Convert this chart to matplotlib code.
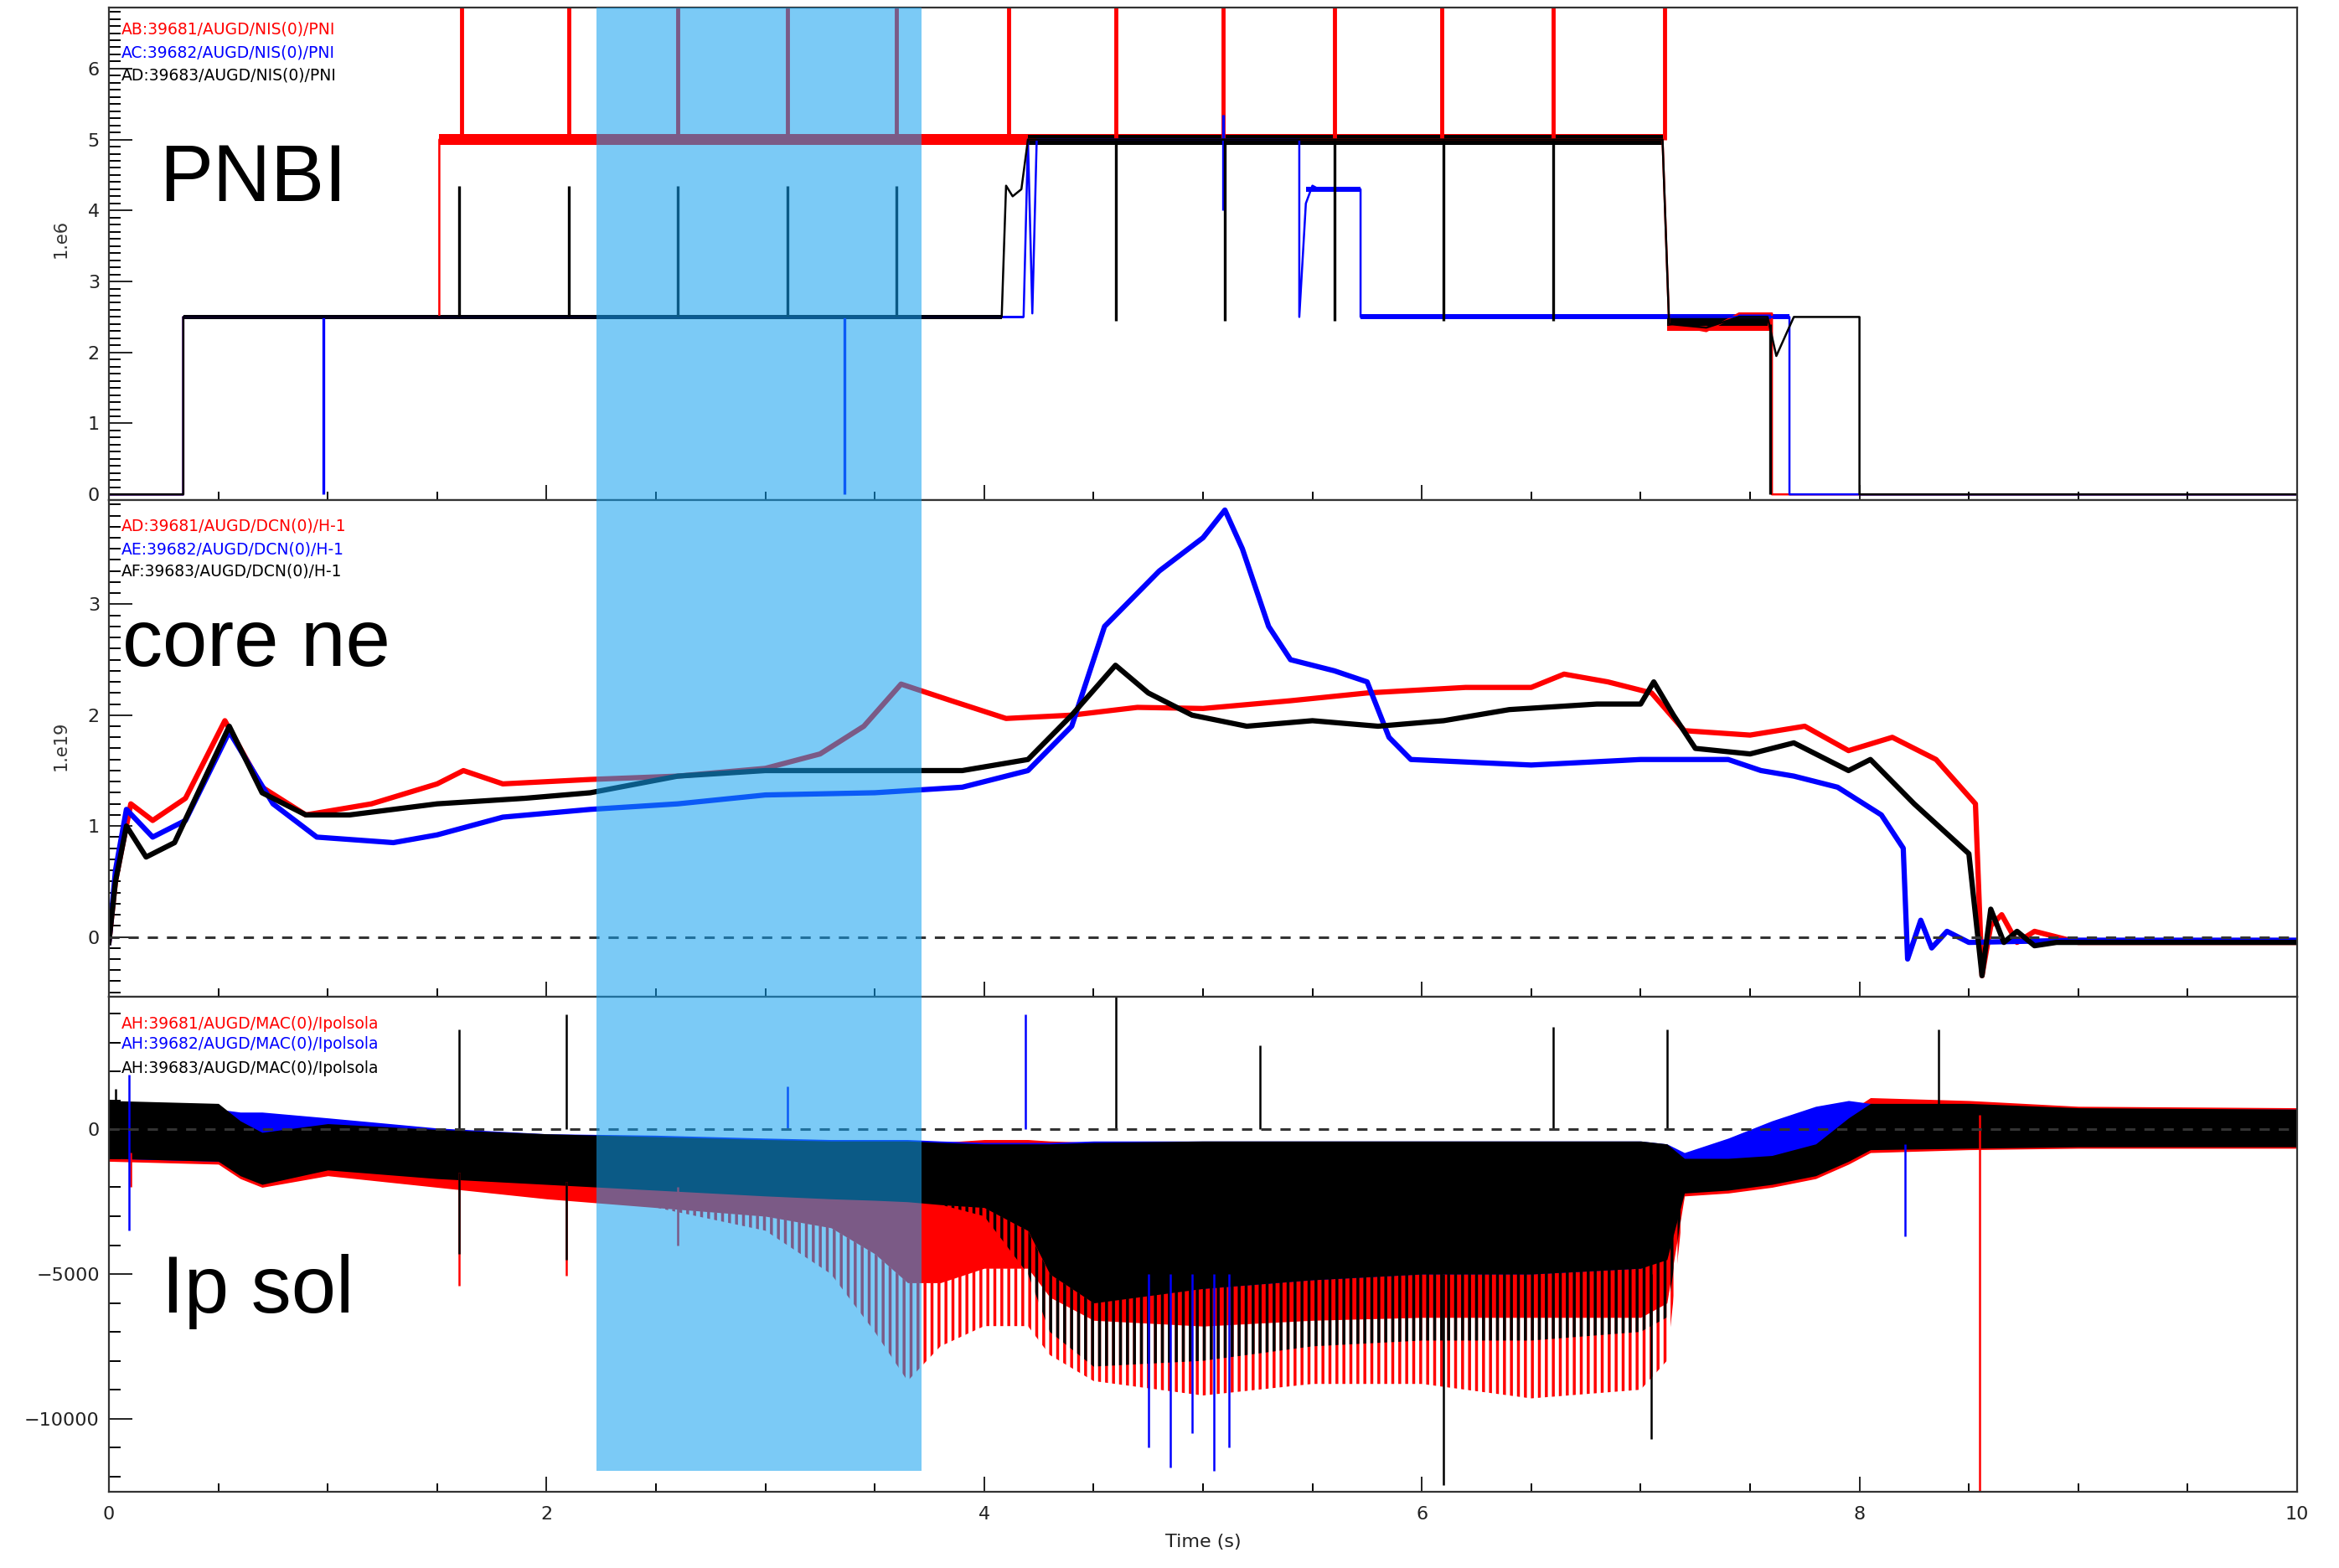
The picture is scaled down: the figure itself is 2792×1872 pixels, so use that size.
import matplotlib.pyplot as plt
from matplotlib.patches import Rectangle
from matplotlib.ticker import MultipleLocator

# shots 39681 (red), 39682 (blue), 39683 (black)
RED, BLUE, BLK = '#ff0000', '#0000ff', '#000000'

# ---------------- PNBI (1e6 W) : step traces ----------------
red_pni_t = [0, 0.34, 0.34, 1.51, 1.51, 7.10, 7.13, 7.30, 7.45, 7.60, 7.60, 10]
red_pni_v = [0, 0, 2.5, 2.5, 5.0, 5.0, 2.4, 2.3, 2.55, 2.55, 0, 0]
blue_pni_t = [0, 0.34, 0.34, 4.18, 4.20, 4.22, 4.24, 5.44, 5.44, 5.47, 5.50, 5.53, 5.72, 5.72, 7.68, 7.68, 10]
blue_pni_v = [0, 0, 2.5, 2.5, 5.0, 2.55, 5.0, 5.0, 2.5, 4.1, 4.35, 4.3, 4.3, 2.5, 2.5, 0, 0]
blk_pni_t = [0, 0.34, 0.34, 4.08, 4.10, 4.13, 4.17, 4.20, 7.10, 7.13, 7.30, 7.45, 7.58, 7.62, 7.70, 8.00, 8.00, 10]
blk_pni_v = [0, 0, 2.5, 2.5, 4.35, 4.2, 4.3, 5.0, 5.0, 2.4, 2.35, 2.5, 2.5, 1.95, 2.5, 2.5, 0, 0]

# ripple on the flat parts: (t_start, t_end, level, half width)
red_pni_ripple = [(1.51, 7.10, 5.0, 0.08), (7.12, 7.60, 2.42, 0.11)]
blue_pni_ripple = [(0.34, 4.18, 2.5, 0.02), (5.72, 7.68, 2.5, 0.035), (5.47, 5.72, 4.3, 0.04)]
blk_pni_ripple = [(0.34, 4.08, 2.5, 0.03), (4.20, 7.10, 5.0, 0.07), (7.12, 7.58, 2.45, 0.07)]

# beam blips: (time, from, to)
red_pni_spikes = [(1.61, 5.0, 6.86), (2.10, 5.0, 6.86), (2.60, 5.0, 6.86), (3.10, 5.0, 6.86),
                  (3.60, 5.0, 6.86), (4.11, 5.0, 6.86), (4.60, 5.0, 6.86), (5.09, 5.0, 6.86),
                  (5.60, 5.0, 6.86), (6.09, 5.0, 6.86), (6.60, 5.0, 6.86), (7.11, 5.0, 6.86)]
blue_pni_spikes = [(0.98, 2.5, 0.0), (3.36, 2.5, 0.0), (5.09, 4.0, 5.35)]
blk_pni_spikes = [(1.60, 2.5, 4.35), (2.10, 2.5, 4.35), (2.60, 2.5, 4.35), (3.10, 2.5, 4.35),
                  (3.60, 2.5, 4.35), (4.60, 5.0, 2.45), (5.10, 5.0, 2.45), (5.60, 5.0, 2.45),
                  (6.10, 5.0, 2.45), (6.60, 5.0, 2.45), (7.59, 2.4, 0.0)]

# ---------------- core ne (1e19 m^-3) ----------------
red_ne_t = [0, 0.03, 0.10, 0.20, 0.35, 0.53, 0.70, 0.90, 1.20, 1.50, 1.62, 1.80, 2.20, 2.60, 3.00,
            3.25, 3.45, 3.62, 3.85, 4.10, 4.40, 4.70, 5.00, 5.40, 5.75, 6.20, 6.50, 6.65, 6.85,
            7.05, 7.20, 7.50, 7.75, 7.95, 8.15, 8.35, 8.53, 8.56, 8.60, 8.65, 8.72, 8.80, 9.00, 10]
red_ne_v = [-0.05, 0.5, 1.2, 1.05, 1.25, 1.95, 1.35, 1.1, 1.2, 1.38, 1.5, 1.38, 1.42, 1.45, 1.52,
            1.65, 1.9, 2.28, 2.13, 1.97, 2.0, 2.07, 2.06, 2.13, 2.2, 2.25, 2.25, 2.37, 2.3,
            2.2, 1.86, 1.82, 1.9, 1.68, 1.8, 1.6, 1.2, -0.35, 0.1, 0.2, -0.05, 0.05, -0.05, -0.05]
blue_ne_t = [0, 0.03, 0.08, 0.20, 0.35, 0.55, 0.75, 0.95, 1.30, 1.50, 1.80, 2.20, 2.60, 3.00, 3.50,
             3.90, 4.20, 4.40, 4.55, 4.80, 5.00, 5.10, 5.18, 5.30, 5.40, 5.60, 5.75, 5.85, 5.95,
             6.50, 7.00, 7.40, 7.55, 7.70, 7.90, 8.10, 8.20, 8.22, 8.28, 8.33, 8.40, 8.50, 9.00, 10]
blue_ne_v = [-0.05, 0.6, 1.15, 0.9, 1.05, 1.85, 1.2, 0.9, 0.85, 0.92, 1.08, 1.15, 1.2, 1.28, 1.3,
             1.35, 1.5, 1.9, 2.8, 3.3, 3.6, 3.85, 3.5, 2.8, 2.5, 2.4, 2.3, 1.8, 1.6,
             1.55, 1.6, 1.6, 1.5, 1.45, 1.35, 1.1, 0.8, -0.2, 0.15, -0.1, 0.05, -0.05, -0.03, -0.03]
blk_ne_t = [0, 0.03, 0.08, 0.17, 0.30, 0.55, 0.70, 0.90, 1.10, 1.50, 1.90, 2.20, 2.60, 3.00, 3.50,
            3.90, 4.20, 4.40, 4.60, 4.75, 4.95, 5.20, 5.50, 5.80, 6.10, 6.40, 6.80, 7.00, 7.06,
            7.15, 7.25, 7.50, 7.70, 7.95, 8.05, 8.25, 8.50, 8.56, 8.60, 8.66, 8.72, 8.80, 8.90, 10]
blk_ne_v = [-0.05, 0.5, 1.0, 0.72, 0.85, 1.9, 1.3, 1.1, 1.1, 1.2, 1.25, 1.3, 1.45, 1.5, 1.5,
            1.5, 1.6, 2.0, 2.45, 2.2, 2.0, 1.9, 1.95, 1.9, 1.95, 2.05, 2.1, 2.1, 2.3,
            2.0, 1.7, 1.65, 1.75, 1.5, 1.6, 1.2, 0.75, -0.35, 0.25, -0.05, 0.05, -0.08, -0.05, -0.05]

# ---------------- Ipolsola (A) : envelope of the noisy trace ----------------
ip_t = [0.0, 0.5, 0.6, 0.7, 1.0, 1.5, 2.0, 2.5, 3.0, 3.3, 3.5, 3.65, 3.8, 4.0, 4.2, 4.3,
        4.5, 5.0, 5.5, 6.0, 6.5, 7.0, 7.12, 7.2, 7.4, 7.6, 7.8, 7.95, 8.05, 8.5, 9.0, 10.0]
red_ip_hi = [900, 800, 200, -200, 100, -100, -250, -350, -450, -500, -500, -500, -450, -350, -350, -400,
             -450, -450, -450, -450, -450, -450, -550, -1050, -1050, -950, -550, 600, 1100, 1000, 800, 750]
red_ip_lo = [-1100, -1200, -1700, -2000, -1600, -2000, -2400, -2700, -3000, -3400, -4300, -5300, -5300, -4800, -4800, -5800,
             -6600, -6800, -6600, -6500, -6500, -6500, -6000, -2300, -2200, -2000, -1700, -1200, -800, -700, -650, -650]
red_ip_sparse = [-1100, -1200, -1700, -2000, -1600, -2000, -2400, -2700, -3500, -5000, -7000, -8700, -7500, -6800, -6800, -7800,
                 -8700, -9200, -8800, -8800, -9300, -9000, -8000, -2300, -2200, -2000, -1700, -1200, -800, -700, -650, -650]
blue_ip_hi = [900, 700, 600, 600, 400, 50, -150, -200, -300, -350, -350, -350, -400, -450, -450, -450,
              -400, -400, -400, -400, -400, -400, -500, -800, -300, 300, 800, 1000, 900, 800, 700, 700]
blue_ip_lo = [-1000, -1100, -1500, -1700, -1300, -1600, -1800, -2000, -2200, -2300, -2400, -2400, -2500, -2600, -3300, -4800,
              -5800, -5500, -5200, -5000, -5000, -4800, -4400, -1900, -1500, -1300, -1000, -800, -650, -600, -550, -550]
blk_ip_hi = [1000, 900, 300, -100, 200, 0, -150, -250, -350, -400, -400, -400, -450, -500, -500, -500,
             -450, -400, -400, -400, -400, -400, -500, -1000, -1000, -900, -500, 400, 900, 900, 750, 700]
blk_ip_lo = [-1000, -1100, -1600, -1900, -1400, -1700, -1900, -2100, -2300, -2400, -2450, -2500, -2600, -2700, -3500, -5000,
             -6000, -5500, -5200, -5000, -5000, -4800, -4500, -2200, -2100, -1900, -1600, -1100, -700, -650, -600, -600]
blk_ip_sparse = [-1000, -1100, -1600, -1900, -1400, -1700, -1900, -2100, -2300, -2400, -2450, -2500, -2600, -3000, -5000, -7000,
                 -8200, -8000, -7500, -7300, -7300, -7000, -6500, -2200, -2100, -1900, -1600, -1100, -700, -650, -600, -600]

# isolated spikes: (time, from, to)
red_ip_spikes = [(0.10, -800, -2000), (1.60, -1500, -5400), (2.09, -1800, -5050), (2.60, -2000, -4000),
                 (8.55, 500, -12530)]
blue_ip_spikes = [(0.09, 1900, -3500), (3.10, 0, 1500), (4.19, 0, 3970), (4.75, -5000, -11000),
                  (4.85, -5000, -11700), (4.95, -5000, -10500), (5.05, -5000, -11800), (5.12, -5000, -11000),
                  (8.21, -500, -3700)]
blk_ip_spikes = [(0.03, 0, 1400), (1.60, 0, 3450), (1.60, -1500, -4300), (2.09, 0, 3970), (2.09, -1800, -4500),
                 (4.60, 0, 4590), (5.26, 0, 2900), (6.60, 0, 3550), (7.12, 0, 3450), (8.36, 0, 3450),
                 (6.10, -5000, -12300), (7.05, -5000, -10700)]

legends = [
    ['AB:39681/AUGD/NIS(0)/PNI', 'AC:39682/AUGD/NIS(0)/PNI', 'AD:39683/AUGD/NIS(0)/PNI'],
    ['AD:39681/AUGD/DCN(0)/H-1', 'AE:39682/AUGD/DCN(0)/H-1', 'AF:39683/AUGD/DCN(0)/H-1'],
    ['AH:39681/AUGD/MAC(0)/Ipolsola', 'AH:39682/AUGD/MAC(0)/Ipolsola', 'AH:39683/AUGD/MAC(0)/Ipolsola'],
]
panel_names = ['PNBI', 'core ne', 'Ip sol']
highlight = (2.23, 3.715)

plt.rcParams['font.family'] = ['DejaVu Sans']
plt.rcParams['hatch.linewidth'] = 2.5

fig = plt.figure(figsize=(27.92, 18.72), dpi=100)
left, width = 130 / 2792, 2612 / 2792
ax1 = fig.add_axes([left, 0.68109, width, 0.31410])
ax2 = fig.add_axes([left, 0.36432, width, 0.31677], sharex=ax1)
ax3 = fig.add_axes([left, 0.04861, width, 0.31571], sharex=ax1)
axes = [ax1, ax2, ax3]

# --- PNBI
for t, v, rip, spk, c in [(red_pni_t, red_pni_v, red_pni_ripple, red_pni_spikes, RED),
                          (blue_pni_t, blue_pni_v, blue_pni_ripple, blue_pni_spikes, BLUE),
                          (blk_pni_t, blk_pni_v, blk_pni_ripple, blk_pni_spikes, BLK)]:
    ax1.plot(t, v, color=c, lw=1.8)
    for t0, t1, lev, h in rip:
        ax1.fill_between([t0, t1], lev - h, lev + h, color=c, lw=0)
    for ts, a, b in spk:
        ax1.vlines(ts, a, b, color=c, lw=3.5 if c == RED else 2.4)

# --- core ne
for t, v, c in [(red_ne_t, red_ne_v, RED), (blue_ne_t, blue_ne_v, BLUE), (blk_ne_t, blk_ne_v, BLK)]:
    ax2.plot(t, v, color=c, lw=4.5, solid_joinstyle='round')

# --- Ipolsola: dense core filled, spiky fringe hatched
for hi, lo, sp, spk, c in [(red_ip_hi, red_ip_lo, red_ip_sparse, red_ip_spikes, RED),
                           (blue_ip_hi, blue_ip_lo, None, blue_ip_spikes, BLUE),
                           (blk_ip_hi, blk_ip_lo, blk_ip_sparse, blk_ip_spikes, BLK)]:
    if sp is not None:
        ax3.fill_between(ip_t, lo, sp, facecolor='none', edgecolor=c, hatch='||', lw=0)
    ax3.fill_between(ip_t, lo, hi, color=c, lw=0)
    for ts, a, b in spk:
        ax3.vlines(ts, a, b, color=c, lw=1.8)

for ax in (ax2, ax3):
    ax.axhline(0, color='#333333', lw=2.2, ls=(0, (4, 3.5)), zorder=5)

ax1.set_ylim(-0.08, 6.86)
ax2.set_ylim(-0.54, 3.94)
ax3.set_ylim(-12530, 4590)
ax1.set_xlim(0, 10)

ax1.yaxis.set_major_locator(MultipleLocator(1))
ax1.yaxis.set_minor_locator(MultipleLocator(0.1))
ax2.yaxis.set_major_locator(MultipleLocator(1))
ax2.yaxis.set_minor_locator(MultipleLocator(0.1))
ax3.yaxis.set_major_locator(MultipleLocator(5000))
ax3.yaxis.set_minor_locator(MultipleLocator(1000))

for ax in axes:
    ax.xaxis.set_major_locator(MultipleLocator(2))
    ax.xaxis.set_minor_locator(MultipleLocator(0.5))
    ax.tick_params(axis='y', which='major', direction='in', length=20, width=1.4,
                   right=False, labelsize=16, pad=8, colors='#222222')
    ax.tick_params(axis='y', which='minor', direction='in', length=10, width=1.4, right=False)
    ax.tick_params(axis='x', which='major', direction='in', length=13, width=1.4, top=False,
                   labelsize=16, pad=12, colors='#222222')
    ax.tick_params(axis='x', which='minor', direction='in', length=7, width=1.4, top=False)
    for s in ax.spines.values():
        s.set_linewidth(1.6)
        s.set_color('#333333')
for ax in (ax1, ax2):
    ax.tick_params(axis='x', labelbottom=False)

ax1.set_ylabel('1.e6', fontsize=15, color='#333333')
ax1.yaxis.set_label_coords(-0.018, 0.53)
ax2.set_ylabel('1.e19', fontsize=15, color='#333333')
ax2.yaxis.set_label_coords(-0.018, 0.506)
ax3.set_xlabel('Time (s)', fontsize=16, color='#222222')
ax3.xaxis.set_label_coords(0.5, -0.085)

legend_y = [[0.955, 0.908, 0.862], [0.948, 0.901, 0.856], [0.945, 0.904, 0.856]]
for ax, labels, ys in zip(axes, legends, legend_y):
    for lab, y, c in zip(labels, ys, [RED, BLUE, BLK]):
        ax.text(0.0055, y, lab, color=c, fontsize=13.5, transform=ax.transAxes, va='center')

name_pos = [(0.023, 0.607), (0.006, 0.666), (0.024, 0.362)]
for ax, name, (x, y) in zip(axes, panel_names, name_pos):
    ax.text(x, y, name, fontsize=69, family=['Liberation Sans', 'DejaVu Sans'],
            transform=ax.transAxes, va='baseline', zorder=6)

# shaded time window across all three panels
inv = fig.transFigure.inverted()
x0, y0 = inv.transform(ax3.transData.transform((highlight[0], -11800)))
x1, _ = inv.transform(ax3.transData.transform((highlight[1], -11800)))
_, y1 = inv.transform(ax1.transAxes.transform((0, 1)))
fig.add_artist(Rectangle((x0, y0), x1 - x0, y1 - y0, transform=fig.transFigure,
                         facecolor='#14a1f0', alpha=0.56, lw=0, zorder=10))

fig.savefig('out.png', dpi=100)
